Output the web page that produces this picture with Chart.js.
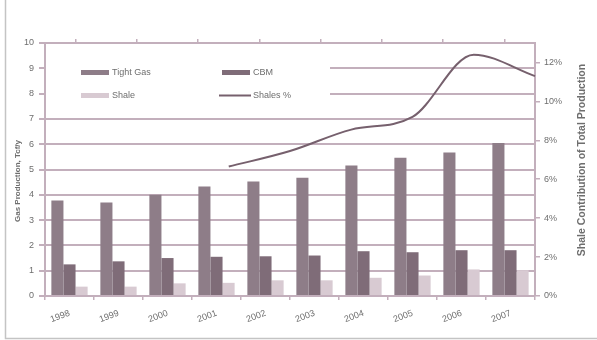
<!DOCTYPE html>
<html>
<head>
<meta charset="utf-8">
<script src="https://cdn.jsdelivr.net/npm/chart.js@4.4.1/dist/chart.umd.min.js"></script>
<style>
  html, body { margin: 0; padding: 0; background: #fff; }
  #wrap { position: relative; width: 597px; height: 340px; }
  #wrap canvas { position: absolute; left: 0; top: 0; }
</style>
</head>
<body>
<div id="wrap">
  <canvas id="barChart" width="597" height="340"></canvas>
  <canvas id="lineChart" width="597" height="340"></canvas>
</div>
<script>
// Categories (bars)
const years = ['1998', '1999', '2000', '2001', '2002', '2003', '2004', '2005', '2006', '2007'];

// Gas production, Tcf/y
const tightGas = [3.77, 3.7, 4.0, 4.33, 4.53, 4.67, 5.16, 5.46, 5.67, 6.05];
const cbm = [1.25, 1.37, 1.5, 1.55, 1.57, 1.6, 1.77, 1.73, 1.81, 1.81];
const shale = [0.37, 0.37, 0.5, 0.52, 0.62, 0.62, 0.72, 0.81, 1.05, 1.02];

// Shale share of total production (secondary axes)
const shareYears = ['1999', '2000', '2001', '2002', '2003', '2004', '2005', '2006', '2007'];
const shalesPct = [null, null, null, 6.65, 7.45, 8.55, 9.2, 12.4, 11.3];

// Tick labels
const leftTicks = [0, 1, 2, 3, 4, 5, 6, 7, 8, 9, 10];
const rightTicks = [0, 2, 4, 6, 8, 10, 12];

const textColor = '#6e6e6e';
const gridColor = '#c3afbc';
const tightColor = '#8e7d88';
const cbmColor = '#7f6c78';
const shaleColor = '#d8cad2';
const lineColor = '#76606d';
const fontFamily = "'Liberation Sans', Arial, sans-serif";

// plot area shared by both charts
const box = { left: 45, right: 62, top: 43, bottom: 44 };

// legend drawn inside the plot over a white box, plus axis titles and frame
const decorations = {
    id: 'decorations',
    beforeDatasetsDraw(chart) {
        const ctx = chart.ctx;
        const a = chart.chartArea;
        ctx.save();
        ctx.fillStyle = '#fff';
        ctx.fillRect(a.left + 1, 55, 330 - a.left - 1, 52);
        ctx.font = '9px ' + fontFamily;
        ctx.textBaseline = 'middle';
        ctx.fillStyle = tightColor;
        ctx.fillRect(81, 70, 28, 5);
        ctx.fillStyle = cbmColor;
        ctx.fillRect(222, 70, 28, 5);
        ctx.fillStyle = shaleColor;
        ctx.fillRect(81, 93, 28, 5);
        ctx.strokeStyle = lineColor;
        ctx.lineWidth = 2;
        ctx.beginPath();
        ctx.moveTo(219, 95.5);
        ctx.lineTo(251, 95.5);
        ctx.stroke();
        ctx.fillStyle = textColor;
        ctx.fillText('Tight Gas', 112, 72.5);
        ctx.fillText('CBM', 253, 72.5);
        ctx.fillText('Shale', 112, 95.5);
        ctx.fillText('Shales %', 253, 95.5);
        ctx.restore();
    },
    afterDraw(chart) {
        const ctx = chart.ctx;
        ctx.save();
        ctx.fillStyle = textColor;
        ctx.textAlign = 'center';
        ctx.textBaseline = 'middle';
        // left axis title
        ctx.save();
        ctx.translate(18, 181);
        ctx.rotate(-Math.PI / 2);
        ctx.font = 'bold 8px ' + fontFamily;
        ctx.fillText('Gas Production, Tcf/y', 0, 0);
        ctx.restore();
        // right axis title, reading bottom to top
        ctx.save();
        ctx.translate(582, 160);
        ctx.rotate(-Math.PI / 2);
        ctx.font = 'bold 10.5px ' + fontFamily;
        ctx.fillText('Shale Contribution of Total Production', 0, 0);
        ctx.restore();
        ctx.restore();
        // outer frame
        ctx.save();
        ctx.strokeStyle = '#c4c4c4';
        ctx.lineWidth = 1.5;
        ctx.beginPath();
        ctx.moveTo(5.5, 0);
        ctx.lineTo(5.5, 338.5);
        ctx.lineTo(597, 338.5);
        ctx.stroke();
        ctx.restore();
    }
};

// Bars, axes and gridlines
const barCanvas = document.getElementById('barChart').getContext('2d');

new Chart(barCanvas, {
    type: 'bar',
    data: {
        labels: years,
        datasets: [
            { label: 'Tight Gas', data: tightGas, backgroundColor: tightColor },
            { label: 'CBM', data: cbm, backgroundColor: cbmColor },
            { label: 'Shale', data: shale, backgroundColor: shaleColor }
        ]
    },
    options: {
        responsive: false,
        animation: false,
        devicePixelRatio: 1,
        layout: { padding: 0 },
        datasets: {
            bar: { categoryPercentage: 0.74, barPercentage: 1 }
        },
        plugins: {
            legend: { display: false },
            tooltip: { enabled: false }
        },
        scales: {
            x: {
                position: 'bottom',
                grid: { drawOnChartArea: false, tickLength: 4, color: gridColor, lineWidth: 1.5 },
                border: { color: gridColor, width: 2 },
                ticks: {
                    color: textColor,
                    font: { size: 9, family: fontFamily },
                    minRotation: 20,
                    maxRotation: 20,
                    padding: 8
                },
                afterFit: (s) => { s.height = box.bottom; }
            },
            x2: {
                type: 'category',
                labels: shareYears,
                position: 'top',
                offset: false,
                grid: { drawOnChartArea: false, tickLength: 4, color: gridColor, lineWidth: 1.5 },
                border: { color: gridColor, width: 2 },
                ticks: { display: false },
                afterFit: (s) => { s.height = box.top; }
            },
            y: {
                position: 'left',
                min: 0,
                max: 10,
                grid: { color: gridColor, lineWidth: 2, tickLength: 6 },
                border: { color: gridColor, width: 2 },
                ticks: {
                    color: textColor,
                    font: { size: 9, family: fontFamily },
                    padding: 5
                },
                afterBuildTicks: (s) => { s.ticks = leftTicks.map(v => ({ value: v })); },
                afterFit: (s) => { s.width = box.left; }
            },
            y2: {
                type: 'linear',
                position: 'right',
                min: 0,
                max: 13,
                grid: { drawOnChartArea: false, color: gridColor, lineWidth: 1.5, tickLength: 5 },
                border: { color: gridColor, width: 2 },
                ticks: {
                    color: textColor,
                    font: { size: 9, family: fontFamily },
                    padding: 4,
                    callback: (v) => v + '%'
                },
                afterBuildTicks: (s) => { s.ticks = rightTicks.map(v => ({ value: v })); },
                afterFit: (s) => { s.width = box.right; }
            }
        }
    },
    plugins: [decorations]
});

// Shales % line, on the secondary axes, over the same plot area
const lineCanvas = document.getElementById('lineChart').getContext('2d');

new Chart(lineCanvas, {
    type: 'line',
    data: {
        labels: shareYears,
        datasets: [{
            label: 'Shales %',
            data: shalesPct,
            xAxisID: 'x2',
            yAxisID: 'y2',
            borderColor: lineColor,
            borderWidth: 2,
            pointRadius: 0,
            cubicInterpolationMode: 'monotone'
        }]
    },
    options: {
        responsive: false,
        animation: false,
        devicePixelRatio: 1,
        layout: { padding: box },
        plugins: {
            legend: { display: false },
            tooltip: { enabled: false }
        },
        scales: {
            x2: { type: 'category', position: 'top', offset: false, display: false },
            y2: { type: 'linear', position: 'right', min: 0, max: 13, display: false }
        }
    }
});
</script>
</body>
</html>
